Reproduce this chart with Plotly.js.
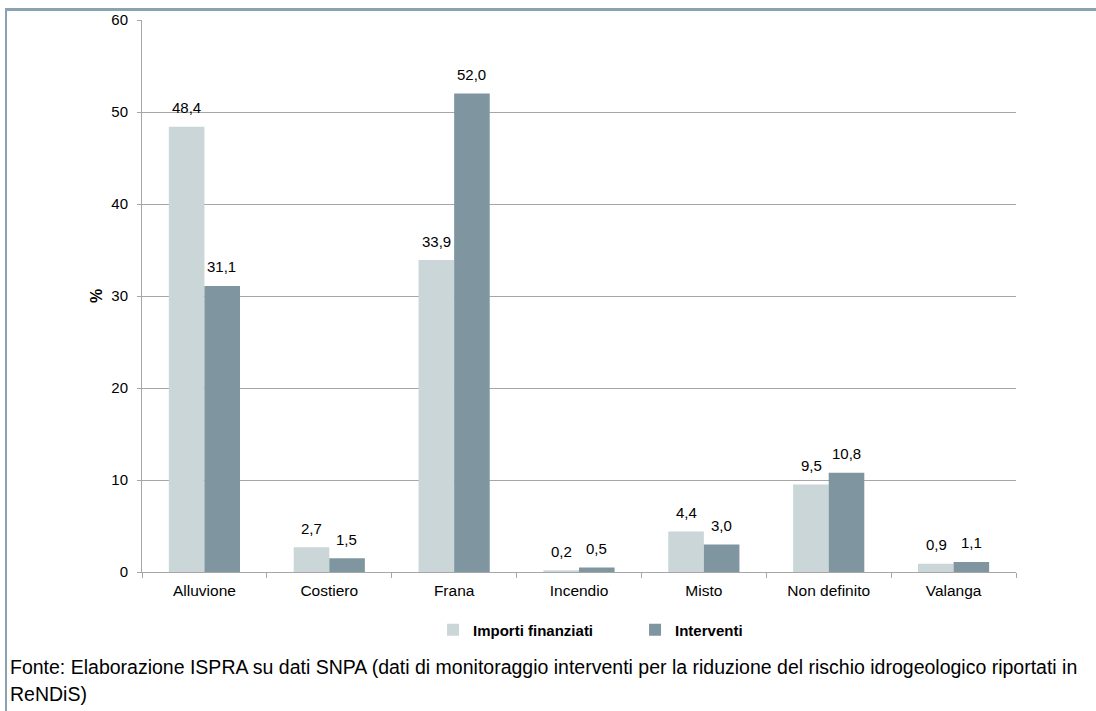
<!DOCTYPE html>
<html>
<head>
<meta charset="utf-8">
<script src="https://cdn.plot.ly/plotly-3.0.1.min.js"></script>
<style>
html,body{margin:0;padding:0;background:#fff;}
#frame{position:absolute;left:5px;top:8px;width:1091px;height:703px;border-left:2px solid #8aa3b3;border-top:3px solid #8aa3b3;box-sizing:border-box;}
#chart{position:absolute;left:0;top:0;width:1096px;height:711px;}
#src{position:absolute;left:10px;top:654px;width:1080px;font-family:"Liberation Sans",Arial,sans-serif;font-size:19.5px;line-height:27px;color:#000;}
</style>
</head>
<body>
<div id="chart"></div>
<div id="frame"></div>
<div id="src">Fonte: Elaborazione ISPRA su dati SNPA (dati di monitoraggio interventi per la riduzione del rischio idrogeologico riportati in ReNDiS)</div>
<script>
const categories = ["Alluvione","Costiero","Frana","Incendio","Misto","Non definito","Valanga"];
const importiFinanziati = [48.4, 2.7, 33.9, 0.2, 4.4, 9.5, 0.9];
const interventi = [31.1, 1.5, 52.0, 0.5, 3.0, 10.8, 1.1];
const seriesNames = ["Importi finanziati","Interventi"];
const seriesColors = ["#cad6d8","#7f96a0"];
const yTicks = [0,10,20,30,40,50,60];

const FAM = "Liberation Sans, Arial, sans-serif";
const fmt = v => v.toFixed(1).replace(".", ",");

const traces = [importiFinanziati, interventi].map((vals, i) => ({
  type:"bar", name:seriesNames[i], x:categories, y:vals,
  marker:{color:seriesColors[i]}, hoverinfo:"none"
}));

const annotations = [];
[importiFinanziati, interventi].forEach((vals, i) => {
  vals.forEach((v, j) => {
    annotations.push({x:categories[j], y:v, xref:"x", yref:"y", text:fmt(v),
      showarrow:false, xshift:(i === 0 ? -17.5 : 17.5), yshift:19,
      font:{family:FAM, size:15, color:"#000"}});
  });
});

const layout = {
  width:1096, height:711,
  margin:{l:142, r:80, t:20, b:139},
  paper_bgcolor:"rgba(0,0,0,0)", plot_bgcolor:"#fff",
  font:{family:FAM, size:15, color:"#000"},
  bargap:0.43, bargroupgap:0,
  showlegend:true,
  legend:{orientation:"h", x:0.333, xanchor:"left", y:-0.075, yanchor:"top",
    font:{family:FAM, size:15, color:"#000", weight:"bold"}, traceorder:"normal",
    itemwidth:30, entrywidth:157},
  annotations:annotations,
  xaxis:{type:"category", showline:true, linecolor:"#a6a6a6", linewidth:1,
    ticks:"outside", tickson:"boundaries", ticklen:5, tickcolor:"#a6a6a6",
    ticklabelstandoff:4,
    tickfont:{family:FAM,size:15.5,color:"#000"}, showgrid:false, fixedrange:true},
  yaxis:{range:[0,60], tickvals:yTicks, showline:true, linecolor:"#a6a6a6", linewidth:1,
    ticks:"outside", ticklen:4, tickcolor:"#a6a6a6", gridcolor:"#a6a6a6", gridwidth:1,
    ticklabelstandoff:6,
    zeroline:false, tickfont:{family:FAM,size:15,color:"#000"},
    title:{text:"%", font:{family:FAM,size:16,color:"#000",weight:"bold"}, standoff:4},
    fixedrange:true}
};
Plotly.newPlot("chart", traces, layout, {displayModeBar:false, staticPlot:true});
</script>
</body>
</html>
